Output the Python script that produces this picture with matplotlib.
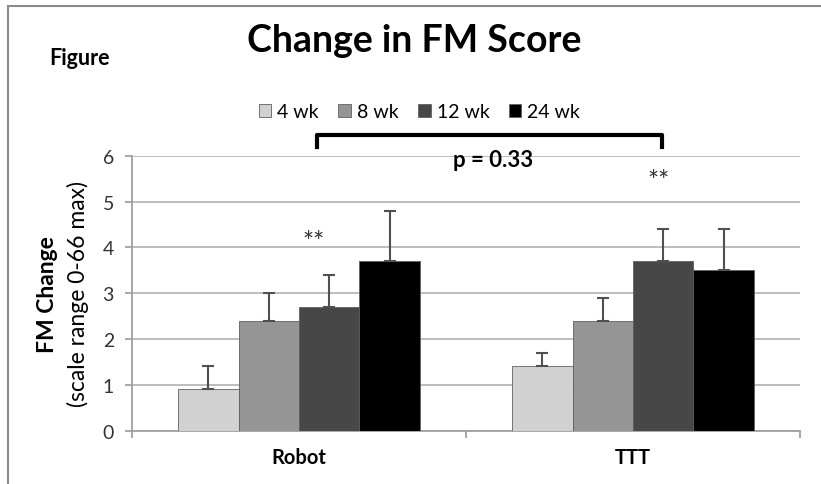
import matplotlib
matplotlib.use('Agg')
import matplotlib.pyplot as plt
import numpy as np
from matplotlib.patches import Rectangle

plt.rcParams['font.family'] = ['Lato', 'DejaVu Sans']

groups = ['Robot', 'TTT']
series = ['4 wk', '8 wk', '12 wk', '24 wk']
colors = ['#d1d1d1', '#959595', '#474747', '#000000']
values = {
    '4 wk': [0.9, 1.4],
    '8 wk': [2.4, 2.4],
    '12 wk': [2.7, 3.7],
    '24 wk': [3.7, 3.5],
}
errors = {
    '4 wk': [0.5, 0.3],
    '8 wk': [0.6, 0.5],
    '12 wk': [0.7, 0.7],
    '24 wk': [1.1, 0.9],
}
# significance marks: (x, y) in data units
star_pos = [(0.042, 4.12), (1.075, 5.45)]
p_text = 'p = 0.33'

fig = plt.figure(figsize=(8.21, 4.85), dpi=100)
ax = fig.add_axes([0.1608, 0.1103, 0.8136, 0.566])

x = np.arange(len(groups))
width = 0.181
for i, s in enumerate(series):
    pos = x + (i - 1.5) * width
    ax.bar(pos, values[s], width, color=colors[i], edgecolor='#606060',
           linewidth=0.6, label=s, zorder=3)
    ax.errorbar(pos, values[s], yerr=[np.zeros(len(groups)), errors[s]],
                fmt='none', ecolor='#505050', elinewidth=1.5, capsize=4,
                capthick=1.5, zorder=4)

ax.set_xlim(-0.5, 1.5)
ax.set_ylim(0, 6)
ax.set_yticks(range(7))
ax.grid(axis='y', color='#b8b8b8', linewidth=1.3, zorder=0)
ax.set_axisbelow(True)
for side in ['top', 'right']:
    ax.spines[side].set_visible(False)
for side in ['left', 'bottom']:
    ax.spines[side].set_color('#a0a0a0')
    ax.spines[side].set_linewidth(1.3)

ax.set_xticks(x)
ax.set_xticklabels(groups, fontsize=14.5, fontweight='bold')
ax.tick_params(axis='x', length=0, pad=12)
ax.set_xticks([-0.5, 0.5, 1.5], minor=True)
ax.tick_params(axis='x', which='minor', length=5, color='#a0a0a0', width=1.3)
ax.tick_params(axis='y', length=5, color='#a0a0a0', width=1.3,
               labelsize=14, labelcolor='#333333', pad=8)

ax.text(-0.126, 0.5, 'FM Change', rotation=90, fontsize=16.5,
        fontweight='bold', ha='center', va='center', transform=ax.transAxes)
ax.text(-0.081, 0.5, '(scale range 0-66 max)', rotation=90, fontsize=16.5,
        ha='center', va='center', transform=ax.transAxes)

for sx, sy in star_pos:
    ax.text(sx, sy, '**', fontsize=19, ha='center', va='center',
            color='#333333')

# bracket between groups
bx0, bx1, by0, by1 = 0.053, 1.086, 6.2, 6.45
ax.plot([bx0, bx0, bx1, bx1], [by0, by1, by1, by0], color='black',
        linewidth=3, clip_on=False, solid_joinstyle='round')
ax.text(0.58, 5.93, p_text, fontsize=16, fontweight='bold',
        ha='center', va='center')

fig.text(0.505, 0.915, 'Change in FM Score', fontsize=27, fontweight='bold',
         ha='center', va='center')
fig.text(0.06, 0.88, 'Figure', fontsize=15.5, fontweight='bold',
         ha='left', va='center')

fig.legend(loc='center', bbox_to_anchor=(0.511, 0.768), ncol=4, frameon=False,
           fontsize=14, handlelength=0.65, handleheight=0.65, handletextpad=0.3,
           columnspacing=1.0)

# outer frame
fig.add_artist(Rectangle((8 / 821, -0.1), 1.2, 1 - 7 / 485 + 0.1,
                         transform=fig.transFigure, fill=False,
                         edgecolor='#8a8a8a', linewidth=1.5))

fig.savefig('out.png', dpi=100)
